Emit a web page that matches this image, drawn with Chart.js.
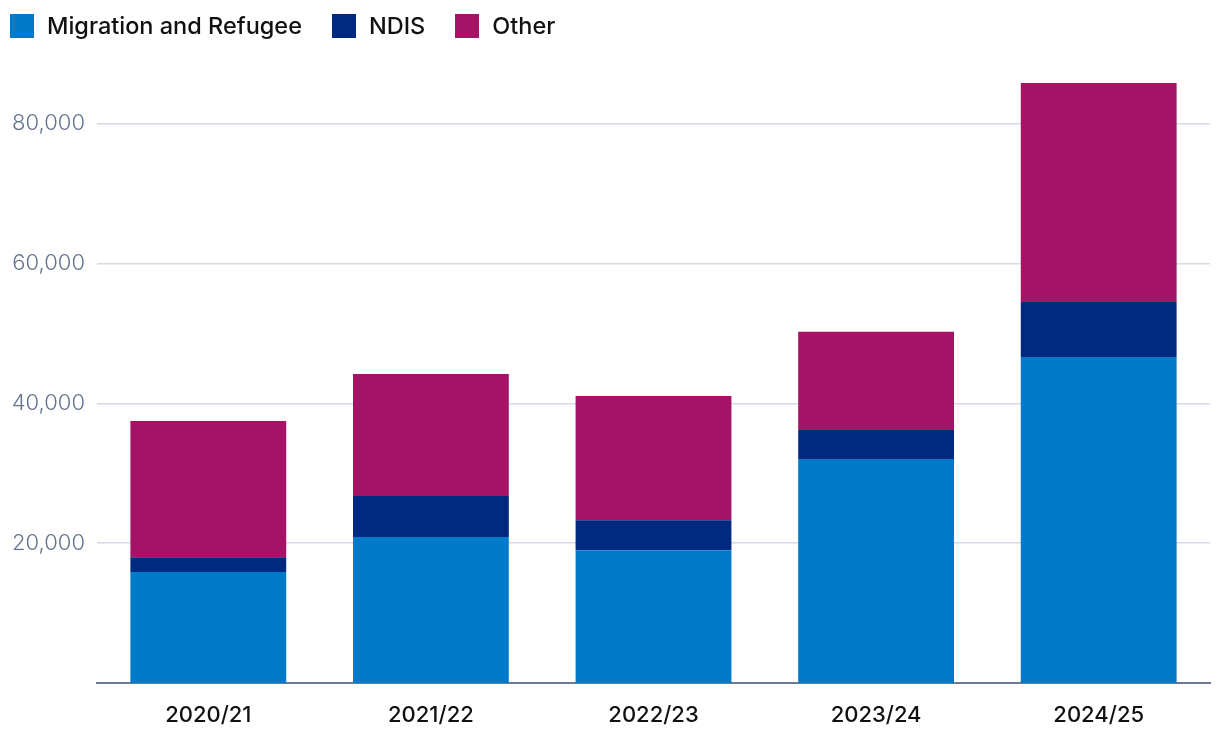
<!DOCTYPE html>
<html>
<head>
<meta charset="utf-8">
<script src="https://cdn.jsdelivr.net/npm/chart.js@4"></script>
<style>
  html, body { margin: 0; padding: 0; background: #fff; }
  #wrap { position: relative; width: 1220px; height: 734px; }
  #legend { position: absolute; left: 10px; top: 11px; display: flex; align-items: center;
            font-family: Inter, "Noto Sans", sans-serif; font-size: 23.5px; font-weight: 500; color: #111; }
  .item { display: flex; align-items: center; margin-right: 30px; }
  .box { width: 24px; height: 24px; margin-right: 13px; }
</style>
</head>
<body>
<div id="wrap">
  <canvas id="c"></canvas>
  <div id="legend"></div>
</div>
<script>
// stacked bars, legend done in html so it can sit flush left

const categories = ['2020/21', '2021/22', '2022/23', '2023/24', '2024/25'];
const migration = [15900, 20900, 19000, 32050, 46650];
const ndis      = [2100, 5850, 4300, 4150, 7850];
const other     = [19500, 17450, 17750, 14050, 31350];
const yTicks    = [20000, 40000, 60000, 80000];

const SERIES = [
  { label: 'Migration and Refugee', data: migration, color: '#007ac9' },
  { label: 'NDIS', data: ndis, color: '#00297f' },
  { label: 'Other', data: other, color: '#a51366' },
];

const legend = document.getElementById('legend');
SERIES.forEach(s => {
  const item = document.createElement('div');
  item.className = 'item';
  item.innerHTML = `<span class="box" style="background:${s.color}"></span><span>${s.label}</span>`;
  legend.appendChild(item);
});

new Chart(document.getElementById('c'), {
  type: 'bar',
  data: {
    labels: categories,
    datasets: SERIES.map(s => ({
      label: s.label, data: s.data,
      backgroundColor: s.color, borderWidth: 0,
      barPercentage: 0.7, categoryPercentage: 1,
    })),
  },
  options: {
    responsive: true, maintainAspectRatio: false, animation: false,
    layout: { padding: { top: 54, right: 10, left: 0, bottom: 0 } },
    plugins: { legend: { display: false }, tooltip: { enabled: false } },
    scales: {
      x: {
        stacked: true,
        grid: { display: false },
        border: { color: '#6b7a90', width: 2 },
        ticks: { color: '#111', padding: 11, font: { family: 'Inter', size: 22, weight: '500' } },
        afterFit: s => { s.height = 51; },
      },
      y: {
        stacked: true, min: 0, max: 90000,
        border: { display: false },
        grid: { color: '#d5dae4', lineWidth: 1.5, drawTicks: false },
        ticks: {
          color: '#66758f', padding: 12,
          font: { family: 'Inter', size: 22, weight: '300' },
          callback: v => v.toLocaleString('en-US'),
        },
        afterBuildTicks: s => { s.ticks = yTicks.map(v => ({ value: v })); },
        afterFit: s => { s.width = 97; },
      },
    },
  },
});
</script>
</body>
</html>
